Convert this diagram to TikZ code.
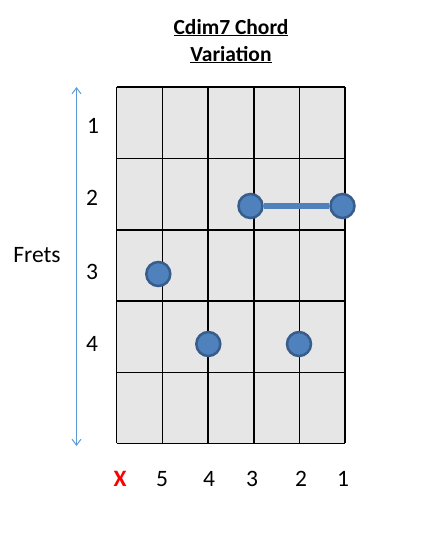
\documentclass[tikz,border=0pt]{standalone}
\usepackage{fontspec}
\setmainfont{Carlito}
\usetikzlibrary{arrows.meta}
\pgfdeclarelayer{behind}
\pgfsetlayers{behind,main}
\definecolor{dotfill}{HTML}{4F81BD}
\definecolor{dotedge}{HTML}{385D8A}
\definecolor{arrowblue}{HTML}{5B9BD5}
\definecolor{gridfill}{HTML}{E6E6E6}
\definecolor{xred}{HTML}{FF0000}
\tikzset{
  fingerdot/.style={circle, fill=dotfill, draw=dotedge, line width=2.5pt, minimum size=24pt, inner sep=0pt},
  barre/.style={dotfill, line width=6pt},
  gridline/.style={black, line width=1.3pt},
  lbl/.style={font=\fontsize{23.5}{26}\selectfont, inner sep=0pt, anchor=base},
  ttl/.style={font=\fontsize{21.5}{24}\selectfont\bfseries, inner sep=0pt, anchor=base},
}
\begin{document}
\begin{tikzpicture}[x=1pt,y=-1pt]
\useasboundingbox (0,0) rectangle (424,536);
% grid
\begin{pgfonlayer}{behind}
\fill[gridfill] (116.7,87) rectangle (345,443.3);
\foreach \xx in {116.7,162.4,208.1,253.9,299.5,345} \draw[gridline] (\xx,87) -- (\xx,443.3);
\foreach \yy in {87,158.3,230,301,372.3,443.3} \draw[gridline] (116.7,\yy) -- (345,\yy);
\end{pgfonlayer}
% title
\node[ttl] (t1) at (231,34) {\underline{Cdim7 Chord}};
\node[ttl] (t2) at (231,61) {\underline{Variation}};
% arrow
\coordinate (atop) at (76.5,87);
\coordinate (abot) at (76.5,446);
\draw[arrowblue, line width=1pt, {Straight Barb[length=6pt,width=9pt]}-{Straight Barb[length=6pt,width=9pt]}] (atop) -- (abot);
\node[lbl] (frets) at (37,262) {Frets};
% fret numbers
\node[lbl] (f1) at (93,133) {1};
\node[lbl] (f2) at (92,205) {2};
\node[lbl] (f3) at (92,279) {3};
\node[lbl] (f4) at (92,351) {4};
% string labels
\node[lbl, text=xred, font=\fontsize{23.5}{26}\selectfont\bfseries] (sx) at (120,486) {X};
\node[lbl] (s5) at (162,486) {5};
\node[lbl] (s4) at (209,486) {4};
\node[lbl] (s3) at (252,486) {3};
\node[lbl] (s2) at (301,486) {2};
\node[lbl] (s1) at (343,486) {1};
% dots
\node[fingerdot] (d23) at (250.5,206) {};
\node[fingerdot] (d21) at (342.5,206) {};
\begin{pgfonlayer}{behind}
\draw[barre] (d23) -- (d21);
\end{pgfonlayer}
\node[fingerdot] (d35) at (158.3,274) {};
\node[fingerdot] (d44) at (208.3,344) {};
\node[fingerdot] (d42) at (299,344) {};
\end{tikzpicture}
\end{document}
